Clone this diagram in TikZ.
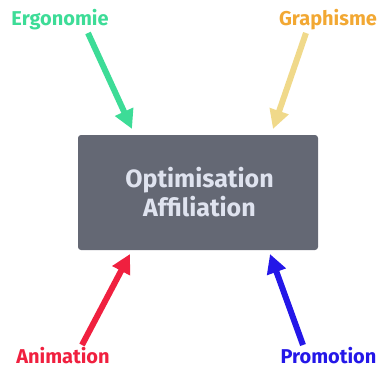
\documentclass[tikz,border=0pt]{standalone}
\usepackage{fontspec}
\setmainfont{Fira Sans}
\usetikzlibrary{arrows.meta}
\definecolor{cgreen}{HTML}{3DDC97}
\definecolor{cyellow}{HTML}{F0D98A}
\definecolor{cred}{HTML}{F0203F}
\definecolor{cblue}{HTML}{2417E8}
\definecolor{cbox}{HTML}{646874}
\definecolor{ctext}{HTML}{DFE3EF}
\definecolor{corange}{HTML}{F2A833}
\begin{document}
\begin{tikzpicture}[x=1pt,y=-1pt,
  lab/.style={font=\fontsize{20}{24}\selectfont\bfseries, inner sep=0pt, anchor=base},
  ctr/.style={text=ctext, font=\fontsize{25}{29}\selectfont\bfseries, anchor=base, inner sep=0pt},
  arr/.style={line width=6pt, -{Triangle[width=19pt,length=19pt]}}]
\useasboundingbox (0,0) rectangle (380,369);
\node[fill=cbox, rounded corners=3pt, minimum width=240pt, minimum height=115pt, inner sep=0pt] (box) at (198,192.5) {};
\node[ctr] (t1) at (199.5,187) {Optimisation};
\node[ctr] (t2) at (199.5,216) {Affiliation};
\node[lab, text=cgreen] (erg) at (60,26) {Ergonomie};
\node[lab, text=corange] (gra) at (328,26) {Graphisme};
\node[lab, text=cred] (ani) at (63,363) {Animation};
\node[lab, text=cblue] (pro) at (328.5,363) {Promotion};
\coordinate (e1) at (88,33); \coordinate (e2) at (132,129);
\coordinate (g1) at (306,33); \coordinate (g2) at (273,129);
\coordinate (a1) at (82,345); \coordinate (a2) at (130,254);
\coordinate (p1) at (303,345); \coordinate (p2) at (270,254);
\draw[arr, cgreen] (e1) -- (e2);
\draw[arr, cyellow] (g1) -- (g2);
\draw[arr, cred] (a1) -- (a2);
\draw[arr, cblue] (p1) -- (p2);
\end{tikzpicture}
\end{document}
